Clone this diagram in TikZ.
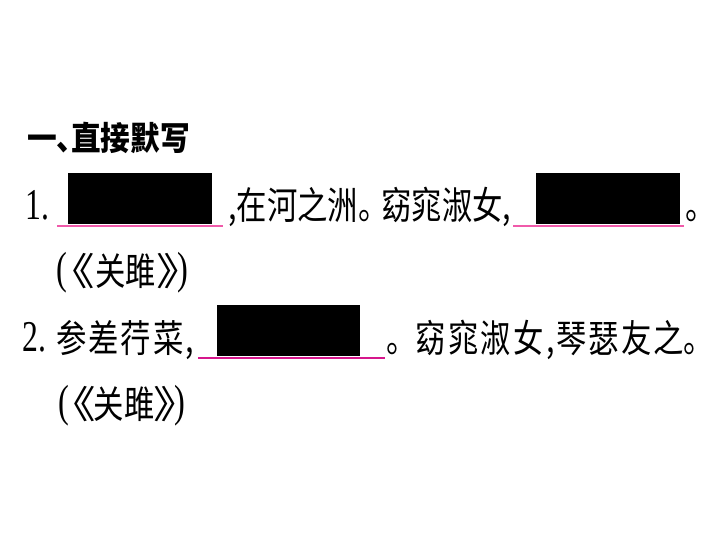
\documentclass[tikz,border=0pt]{standalone}
\usepackage{fontspec}
\newfontfamily\cj[FakeStretch=0.8]{Noto Sans CJK SC}
\newfontfamily\cjh[FakeStretch=0.9]{Noto Sans CJK SC}
\newfontfamily\lat[FakeStretch=0.72]{Liberation Serif}
\definecolor{pinkA}{RGB}{240,90,170}
\definecolor{pinkB}{RGB}{214,22,140}
\newcommand\spreadbox[2]{\makebox[#1pt][s]{#2}}
\newcommand\bigpar[1]{{\lat\fontsize{45}{47}\selectfont\raisebox{2pt}{#1}}}
\newcommand\wideb[1]{\scalebox{1.5}[1]{#1}}
\tikzset{
  txt/.style={anchor=base west, inner sep=0pt, font=\cj\fontsize{38}{40}\selectfont},
  num/.style={anchor=base west, inner sep=0pt, font=\lat\fontsize{44}{46}\selectfont},
  head/.style={anchor=base west, inner sep=0pt, font=\cjh\bfseries\fontsize{33}{35}\selectfont},
  blank/.style={fill=black, draw=none},
  uline/.style={line width=2pt},
}
\begin{document}
\begin{tikzpicture}[x=1pt,y=-1pt]
\useasboundingbox[fill=white] (0,0) rectangle (720,540);
% heading
\node[head] (h0) at (27,151) {一、};
\node[head] (h1) at (71,151) {\spreadbox{118}{直\hfill 接\hfill 默\hfill 写}};
% line 1
\node[num] (n1) at (25,219) {1.};
\fill[blank] (68,173) rectangle (212,224);
\coordinate (u1a) at (57,226); \coordinate (u1b) at (223,226);
\draw[uline, pinkA] (u1a) -- (u1b);
\node[txt] (t1a) at (228,220) {\spreadbox{158}{,\hfill 在\hfill 河\hfill 之\hfill 洲\hfill 。}};
\node[txt] (t1b) at (381,220) {\spreadbox{127}{窈\hfill 窕\hfill 淑\hfill 女\hfill ,}};
\fill[blank] (536,173) rectangle (680,224);
\coordinate (u2a) at (513,226); \coordinate (u2b) at (684,226);
\draw[uline, pinkA] (u2a) -- (u2b);
\node[txt] (t1c) at (685,220) {。};
% source 1
\node[txt] (s1) at (56,285) {\bigpar{(}\kern-17pt\wideb{《}\kern0pt 关雎\wideb{》}\kern-24pt\bigpar{)}};
% line 2
\node[num] (n2) at (22,351) {2.};
\node[txt] (t2a) at (56,352) {\spreadbox{138}{参\hfill 差\hfill 荇\hfill 菜\hfill ,}};
\fill[blank] (217,305) rectangle (360,356);
\coordinate (u3a) at (198,358); \coordinate (u3b) at (385,358);
\draw[uline, pinkB] (u3a) -- (u3b);
\node[txt] (t2b) at (386,352) {。};
\node[txt] (t2c) at (415,352) {\spreadbox{140}{窈\hfill 窕\hfill 淑\hfill 女\hfill ,}};
\node[txt] (t2d) at (556,352) {\spreadbox{128}{琴\hfill 瑟\hfill 友\hfill 之}};
\node[txt] (t2e) at (683,352) {。};
% source 2
\node[txt] (s2) at (58,418) {\bigpar{(}\kern-18pt\wideb{《}\kern-2.9pt 关雎\kern-1pt\wideb{》}\kern-25pt\bigpar{)}};
\end{tikzpicture}
\end{document}
